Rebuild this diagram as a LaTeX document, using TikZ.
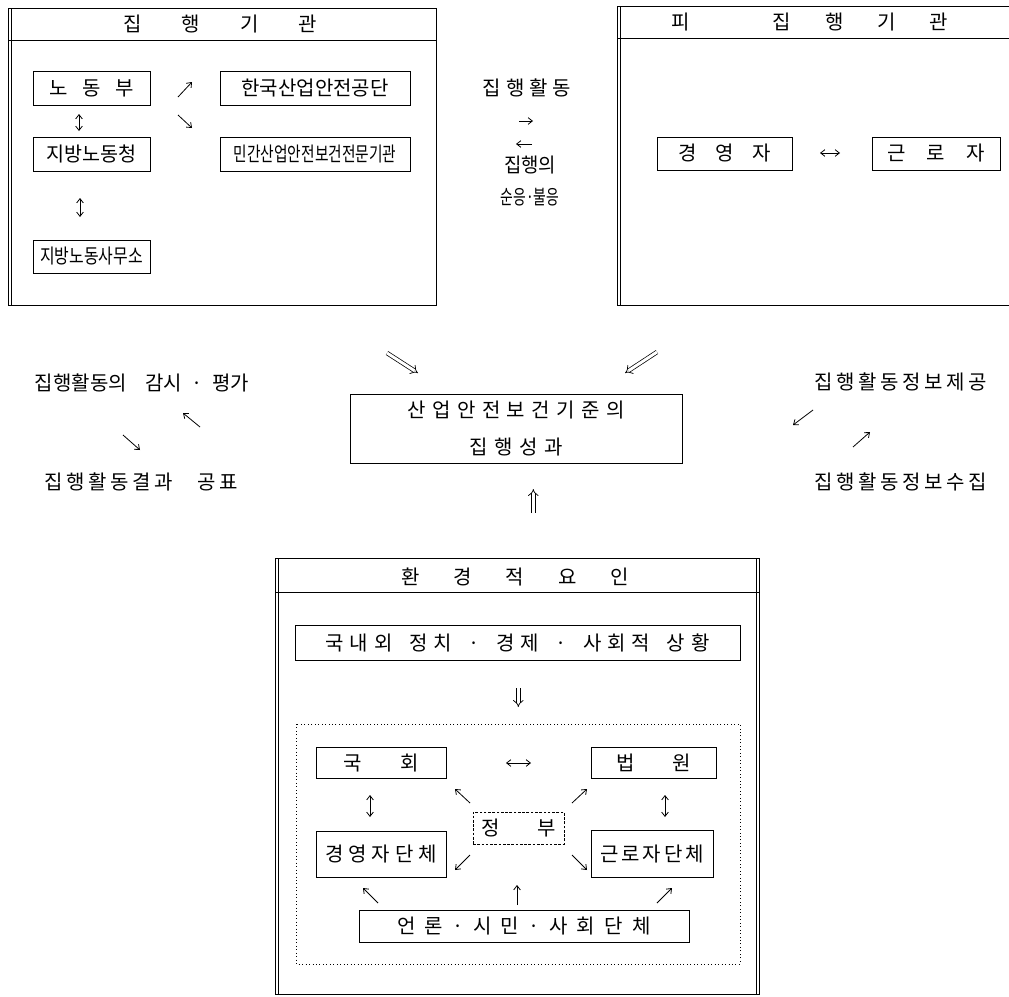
\documentclass[tikz,border=0pt]{standalone}
\usepackage{graphicx}
\usepackage{fontspec}
\setmainfont{Noto Sans CJK KR}
\usetikzlibrary{arrows.meta}
\makeatletter
\newcommand\spaced[2]{\begingroup\def\sp@g{\hspace{#1}}\let\sp@first\relax\@tfor\sp@c:=#2\do{\sp@first\sp@c\let\sp@first\sp@g}\endgroup}
\makeatother
\newcommand\kf{\fontsize{15}{18}\selectfont}
\newcommand\p[1]{#1*0.75pt}
\tikzset{
  box/.style={draw, line width=0.6pt, inner sep=0pt, font=\kf},
  dbox/.style={box, dash pattern=on 2pt off 1.2pt},
  txt/.style={inner sep=0pt, font=\kf},
  frame/.style={line width=0.7pt},
  arr/.style={line width=0.6pt, -{Straight Barb[length=3.2pt,width=5pt]}},
  barr/.style={line width=0.6pt, {Straight Barb[length=3.2pt,width=5pt]}-{Straight Barb[length=3.2pt,width=5pt]}},
  dbl/.style={double, double distance=2.2pt, line width=0.55pt, -{Implies}},
}
\begin{document}
\begin{tikzpicture}[x=0.75pt,y=-0.75pt]
\useasboundingbox (0,0) rectangle (1009,996);
% ---------- top-left frame ----------
\draw[frame] (8,8) rectangle (436,305);
\draw[frame] (11,8) -- (11,305);
\draw[frame] (8,40) -- (436,40);
\node[txt] (tlt) at (220,24) {\spaced{30pt}{집행기관}};
\node[box, minimum width=\p{117}, minimum height=\p{34}] (nodong) at (91.5,88) {\spaced{11pt}{노동부}};
\node[box, minimum width=\p{190}, minimum height=\p{34}] (kosha) at (315,88) {한국산업안전공단};
\node[box, minimum width=\p{117}, minimum height=\p{34}] (jibang) at (91.5,154) {\resizebox{67.5pt}{\height}{지방노동청}};
\node[box, minimum width=\p{190}, minimum height=\p{34}] (mingan) at (315,154) {\resizebox{122pt}{\height}{민간산업안전보건전문기관}};
\node[box, minimum width=\p{117}, minimum height=\p{33}] (samuso) at (91.5,256.5) {\resizebox{77pt}{\height}{지방노동사무소}};
\coordinate (a1s) at (79,114); \coordinate (a1e) at (79,131);
\coordinate (a2s) at (80,198); \coordinate (a2e) at (80,217);
\coordinate (a3s) at (178,97); \coordinate (a3e) at (192,82);
\coordinate (a4s) at (178,115); \coordinate (a4e) at (192,128);
\draw[barr] (a1s) -- (a1e);
\draw[barr] (a2s) -- (a2e);
\draw[arr] (a3s) -- (a3e);
\draw[arr] (a4s) -- (a4e);
% ---------- top-right frame ----------
\draw[frame] (1009,6) -- (617,6) -- (617,305) -- (1009,305);
\draw[frame] (620,6) -- (620,305);
\draw[frame] (617,38) -- (1009,38);
\node[txt] (trt) at (810,22) {피\hspace{62pt}\spaced{25.5pt}{집행기관}};
\node[box, minimum width=\p{135}, minimum height=\p{33}] (gyeong) at (724.5,153.5) {\spaced{14pt}{경영자}};
\node[box, minimum width=\p{128}, minimum height=\p{33}] (geunro) at (936,153.5) {\spaced{16pt}{근로자}};
\coordinate (a5s) at (820,153); \coordinate (a5e) at (840,153);
\draw[barr] (a5s) -- (a5e);
% ---------- middle texts ----------
\node[txt] (act) at (527,88) {\spaced{3.75pt}{집행활동}};
\coordinate (a6s) at (519,121); \coordinate (a6e) at (533,121);
\coordinate (a7s) at (532,144); \coordinate (a7e) at (516,144);
\draw[arr] (a6s) -- (a6e);
\draw[arr] (a7s) -- (a7e);
\node[txt] (comp1) at (530,165) {\resizebox{39pt}{\height}{집행의}};
\node[txt] (comp2) at (530,197) {\resizebox{44pt}{\height}{순응·불응}};
% ---------- centre ----------
\node[box, minimum width=\p{332}, minimum height=\p{69}, align=center] (perf) at (516,428.5)
  {\spaced{4.8pt}{산업안전보건기준의}\\[10pt]\spaced{5pt}{집행성과}};
\coordinate (a10s) at (387,353); \coordinate (a10e) at (418,373);
\coordinate (a11s) at (657,352); \coordinate (a11e) at (625,373);
\coordinate (a14s) at (533.3,513); \coordinate (a14e) at (533.3,489);
\draw[dbl] (a10s) -- (a10e);
\draw[dbl] (a11s) -- (a11e);
\draw[dbl] (a14s) -- (a14e);
\node[txt] (mon) at (142,383) {집행활동의\hspace{14pt}감시\hspace{7pt}·\hspace{7pt}평가};
\node[txt] (pub) at (141,482) {\spaced{2.7pt}{집행활동결과{\hspace{13pt}}공표}};
\coordinate (a8s) at (200,427); \coordinate (a8e) at (183,413);
\coordinate (a9s) at (123,435); \coordinate (a9e) at (140,450);
\draw[arr] (a8s) -- (a8e);
\draw[arr] (a9s) -- (a9e);
\node[txt] (prov) at (901,382) {\spaced{2.7pt}{집행활동정보제공}};
\node[txt] (coll) at (901,482) {\spaced{2.7pt}{집행활동정보수집}};
\coordinate (a12s) at (813,410); \coordinate (a12e) at (793,425);
\coordinate (a13s) at (853,447); \coordinate (a13e) at (870,432);
\draw[arr] (a12s) -- (a12e);
\draw[arr] (a13s) -- (a13e);
% ---------- bottom frame ----------
\draw[frame] (275,558) rectangle (759,994);
\draw[frame] (278,558) -- (278,994);
\draw[frame] (756,558) -- (756,994);
\draw[frame] (275,592) -- (759,592);
\node[txt] (env) at (515,577) {\spaced{25.5pt}{환경적요인}};
\node[box, minimum width=\p{445}, minimum height=\p{35}] (dom) at (517.5,642.5) {\spaced{4.5pt}{국내외~정치~·~경제~·~사회적~상황}};
\coordinate (a15s) at (518.3,688); \coordinate (a15e) at (518.3,707);
\draw[dbl] (a15s) -- (a15e);
\draw[line width=0.6pt, dotted] (296,724) rectangle (740,964);
\node[box, minimum width=\p{130}, minimum height=\p{31}] (nat) at (381,762.5) {\spaced{28.5pt}{국회}};
\node[box, minimum width=\p{125}, minimum height=\p{31}] (court) at (653.5,762.5) {\spaced{28pt}{법원}};
\node[dbox, minimum width=\p{91}, minimum height=\p{32}] (gov) at (518.5,828) {\spaced{28pt}{정부}};
\node[box, minimum width=\p{130}, minimum height=\p{46}] (emp) at (381,854) {\spaced{3.75pt}{경영자단체}};
\node[box, minimum width=\p{122}, minimum height=\p{47}] (lab) at (652,853.5) {\spaced{2.25pt}{근로자단체}};
\node[box, minimum width=\p{330}, minimum height=\p{32}] (press) at (524,926) {\spaced{7pt}{언론·시민·사회단체}};
\coordinate (b1s) at (506,763); \coordinate (b1e) at (531,763);
\coordinate (b2s) at (370,795); \coordinate (b2e) at (370,817);
\coordinate (b3s) at (665,795); \coordinate (b3e) at (665,817);
\draw[barr] (b1s) -- (b1e);
\draw[barr] (b2s) -- (b2e);
\draw[barr] (b3s) -- (b3e);
\coordinate (b4s) at (470,803); \coordinate (b4e) at (455,789);
\coordinate (b5s) at (572,803); \coordinate (b5e) at (587,789);
\coordinate (b6s) at (470,855); \coordinate (b6e) at (455,870);
\coordinate (b7s) at (572,855); \coordinate (b7e) at (587,870);
\coordinate (b8s) at (378,903); \coordinate (b8e) at (363,888);
\coordinate (b9s) at (517,905); \coordinate (b9e) at (517,885);
\coordinate (b10s) at (657,903); \coordinate (b10e) at (672,888);
\foreach \i in {4,...,10} {\draw[arr] (b\i s) -- (b\i e);}
\end{tikzpicture}
\end{document}
